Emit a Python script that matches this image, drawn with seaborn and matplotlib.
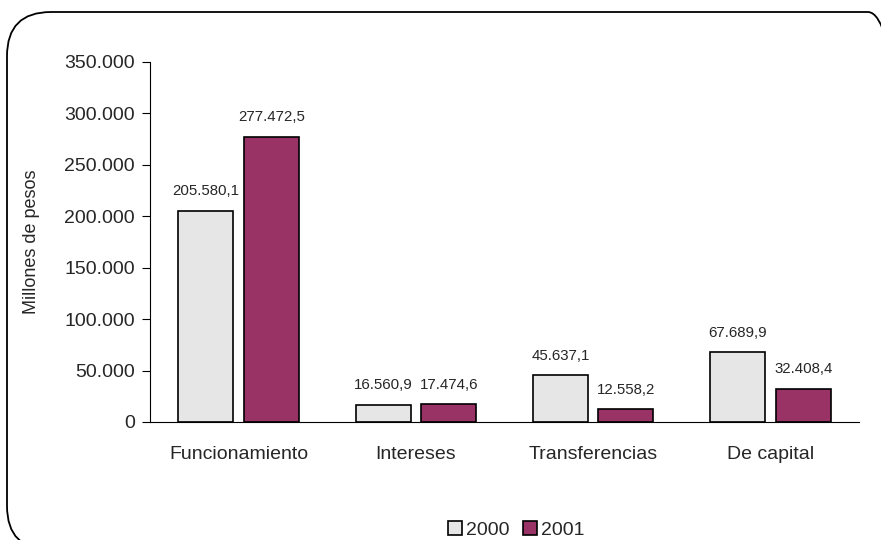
import pandas as pd
import matplotlib
matplotlib.use('Agg')
import matplotlib.pyplot as plt
import seaborn as sns
from matplotlib.patches import FancyBboxPatch, Patch

# datos (millones de pesos)
categorias = ['Funcionamiento', 'Intereses', 'Transferencias', 'De capital']
anios = ['2000', '2001']
valores_2000 = [205580.1, 16560.9, 45637.1, 67689.9]
valores_2001 = [277472.5, 17474.6, 12558.2, 32408.4]
yticks = [0, 50000, 100000, 150000, 200000, 250000, 300000, 350000]

df = pd.DataFrame({
    'Categoria': categorias * 2,
    'Anio': [anios[0]] * 4 + [anios[1]] * 4,
    'Valor': valores_2000 + valores_2001,
})

sns.set_style('white')
plt.rcParams['font.family'] = ['Liberation Sans', 'DejaVu Sans']

colores = {'2000': '#e6e6e6', '2001': '#993366'}


def fmt_es(v, dec=1):
    s = f'{v:,.{dec}f}'
    return s.replace(',', 'X').replace('.', ',').replace('X', '.')


fig = plt.figure(figsize=(8.81, 5.4), dpi=100)
ax = fig.add_axes([150 / 881, 1 - 422 / 540, 709 / 881, 360 / 540])

sns.barplot(data=df, x='Categoria', y='Valor', hue='Anio', order=categorias,
            hue_order=anios, palette=colores, saturation=1, width=0.74, gap=0.16,
            edgecolor='black', linewidth=1.2, legend=False, ax=ax)

# etiquetas de valor sobre las barras
for cont in ax.containers:
    for bar in cont:
        h = bar.get_height()
        ax.annotate(fmt_es(h), (bar.get_x() + bar.get_width() / 2, h),
                    xytext=(0, 9), textcoords='offset points',
                    ha='center', va='bottom', fontsize=10.8)

ax.set_ylim(0, 350000)
ax.set_xlim(-0.5, 3.5)
ax.set_yticks(yticks)
ax.set_yticklabels([fmt_es(t, 0) for t in yticks], fontsize=14)
ax.set_xticks([-0.5, 0.5, 1.5, 2.5, 3.5])
ax.set_xticklabels([])
ax.set_xticks(range(4), minor=True)
ax.set_xticklabels(categorias, minor=True, fontsize=14)
ax.tick_params(axis='x', which='major', direction='out', length=5, color='black', width=0.8)
ax.tick_params(axis='x', which='minor', length=0, pad=17)
ax.tick_params(axis='y', direction='out', length=6, color='black', width=0.8, pad=5, left=True)
ax.set_xlabel('')
ax.set_ylabel('Millones de pesos', fontsize=13, labelpad=17)
for s in ['top', 'right']:
    ax.spines[s].set_visible(False)
for s in ['left', 'bottom']:
    ax.spines[s].set_color('black')
    ax.spines[s].set_linewidth(0.8)

# leyenda
handles = [Patch(facecolor=colores[a], edgecolor='black', linewidth=1.2) for a in anios]
fig.legend(handles, anios, loc='center', bbox_to_anchor=(0.586, 0.018), ncol=2,
           frameon=False, fontsize=14, handlelength=0.7, handleheight=0.7,
           handletextpad=0.2, columnspacing=0.7)

# marco redondeado
marco = FancyBboxPatch((7 / 881, -10 / 540), 905 / 881, 538 / 540,
                       boxstyle='round,pad=0,rounding_size=0.05',
                       transform=fig.transFigure, facecolor='none',
                       edgecolor='black', linewidth=1.3, clip_on=False,
                       mutation_aspect=881 / 540)
fig.patches.append(marco)

fig.savefig('out.png', dpi=100)
